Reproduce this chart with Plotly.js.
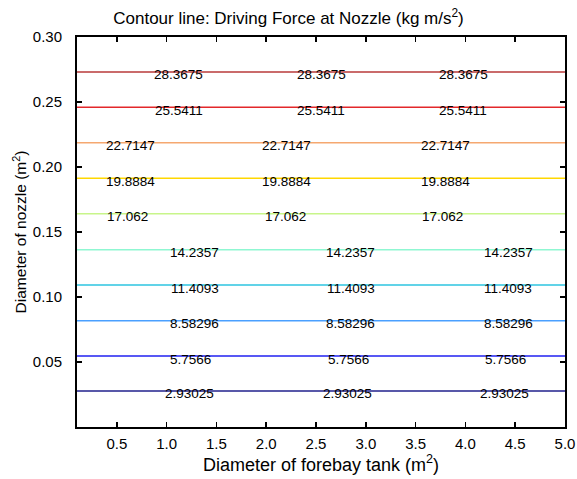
<!DOCTYPE html>
<html>
<head>
<meta charset="utf-8">
<script src="https://cdn.plot.ly/plotly-3.0.1.min.js"></script>
<style>html,body{margin:0;padding:0;background:#fff;}#chart{width:577px;height:479px;}</style>
</head>
<body>
<div id="chart"></div>
<script>
// contour levels (kg m/s^2)
const levels = ["28.3675","25.5411","22.7147","19.8884","17.062","14.2357","11.4093","8.58296","5.7566","2.93025"];
// nozzle diameter at which each contour line lies (m^2)
const levelY = [0.2731,0.2459,0.2187,0.1913,0.1641,0.1364,0.1092,0.0818,0.0546,0.0277];
// forebay tank diameter extent (m^2)
const xExtent = [0.1,5.0];
// label positions along x for each level
const labelX = [
  [1.12,2.55,3.98],
  [1.12,2.55,3.98],
  [0.64,2.20,3.80],
  [0.64,2.20,3.80],
  [0.61,2.19,3.77],
  [1.28,2.85,4.43],
  [1.28,2.85,4.43],
  [1.28,2.85,4.43],
  [1.24,2.83,4.40],
  [1.23,2.82,4.39]
];
const colors = ["#b83a3a","#e3282b","#f5a870","#ffd700","#c8f58a","#8ff7d2","#2cc4e0","#4aa0ff","#2020f0","#20208c"];
const xTicks = [0.5,1.0,1.5,2.0,2.5,3.0,3.5,4.0,4.5,5.0];
const yTicks = [0.05,0.10,0.15,0.20,0.25,0.30];

const font = "Arial, 'Liberation Sans', sans-serif";
const traces = levels.map((lv,i)=>({
  type:'scatter', mode:'lines', x:xExtent, y:[levelY[i],levelY[i]],
  line:{color:colors[i], width:1.5}, hoverinfo:'skip', showlegend:false
}));
const annotations = [];
levels.forEach((lv,i)=>{
  labelX[i].forEach(xv=>{
    annotations.push({x:xv, y:levelY[i], xref:'x', yref:'y', text:lv, showarrow:false,
      yshift:-3, font:{family:font, size:13.5, color:'#000'}});
  });
});

const layout = {
  width:577, height:479,
  margin:{l:77, r:12, t:37, b:52},
  paper_bgcolor:'#fff', plot_bgcolor:'#fff',
  font:{family:font, size:15, color:'#000'},
  title:{text:'Contour line: Driving Force at Nozzle (kg m/s<sup>2</sup>)', font:{family:font,size:17,color:'#000'}, x:0.5, xanchor:'center', y:0.962, yanchor:'middle'},
  xaxis:{range:xExtent, tickvals:xTicks, ticktext:xTicks.map(v=>v.toFixed(1)),
    ticks:'inside', ticklen:5, tickwidth:1.5, tickcolor:'#000', mirror:'ticks',
    showline:true, linecolor:'#000', linewidth:2, showgrid:false, zeroline:false,
    tickfont:{family:font,size:15,color:'#000'}, ticklabelstandoff:2,
    title:{text:'Diameter of forebay tank (m<sup>2</sup>)', font:{family:font,size:18,color:'#000'}, standoff:6}},
  yaxis:{range:[0,0.30], tickvals:yTicks, ticktext:yTicks.map(v=>v.toFixed(2)),
    ticks:'inside', ticklen:5, tickwidth:1.5, tickcolor:'#000', mirror:'ticks',
    showline:true, linecolor:'#000', linewidth:2, showgrid:false, zeroline:false,
    tickfont:{family:font,size:15,color:'#000'}, ticklabelstandoff:10,
    title:{text:'Diameter of nozzle (m<sup>2</sup>)', font:{family:font,size:15.5,color:'#000'}, standoff:2}},
  annotations:annotations
};
Plotly.newPlot('chart', traces, layout, {displayModeBar:false, staticPlot:true});
</script>
</body>
</html>
